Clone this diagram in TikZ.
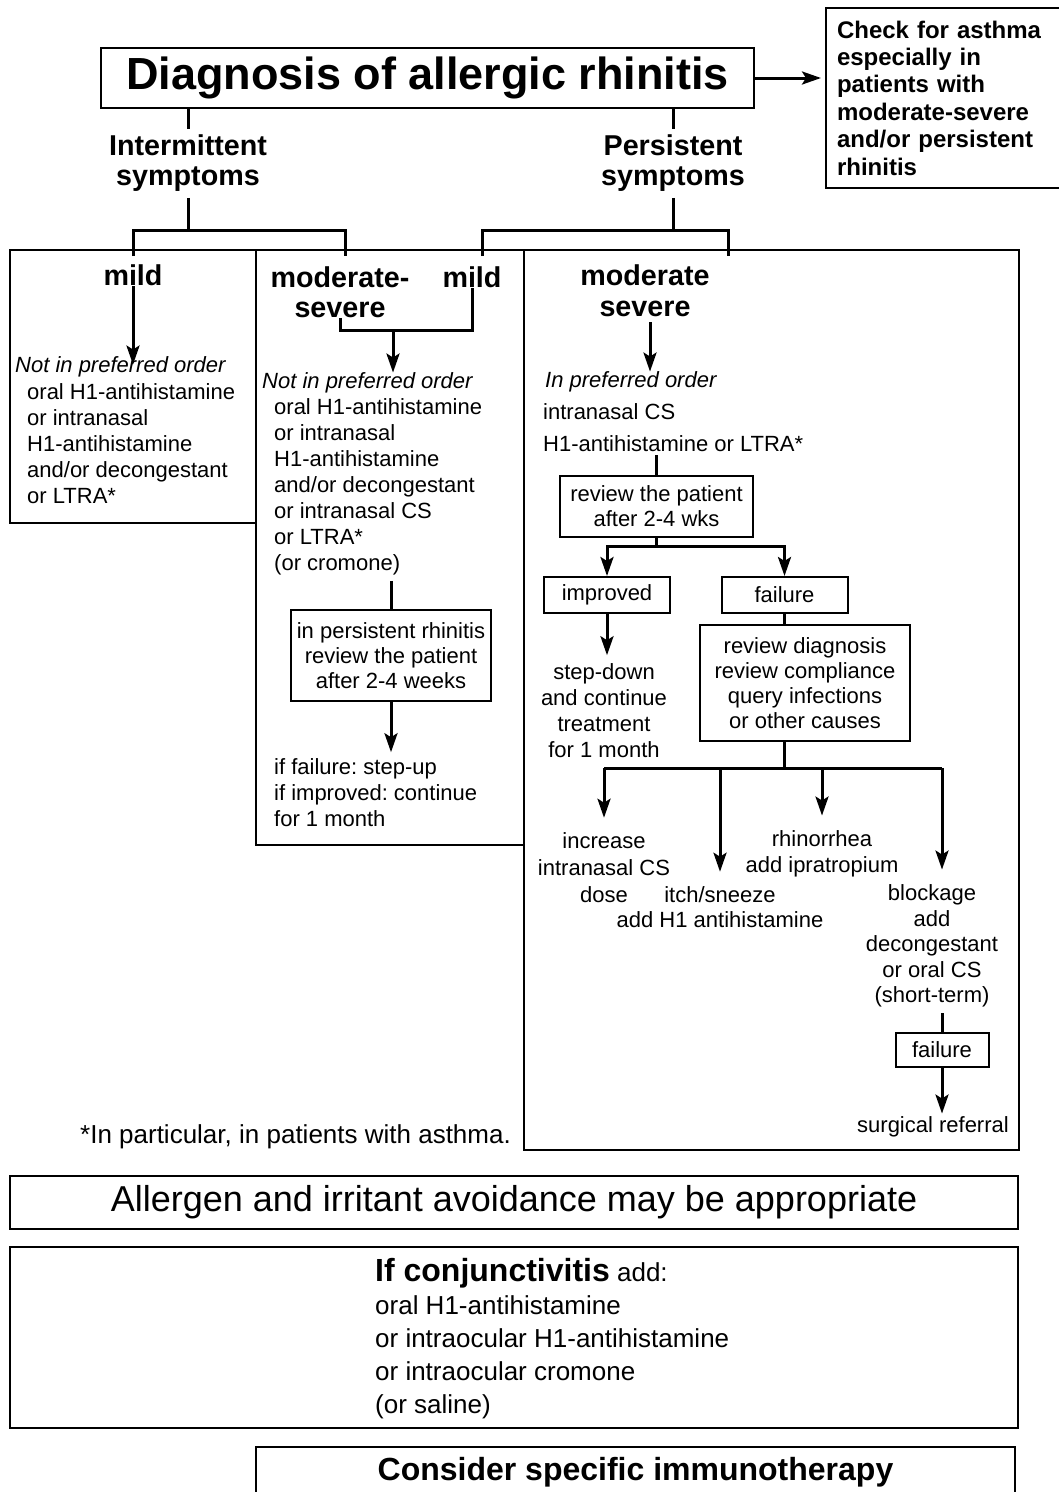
\documentclass[tikz,border=0pt]{standalone}
\usepackage{fontspec}
\setmainfont{Liberation Sans}
\usetikzlibrary{arrows.meta,positioning,calc}
\frenchspacing

\begin{document}
\begin{tikzpicture}[x=1pt,y=-1pt,
	box/.style={draw,line width=2pt,inner sep=0pt},
	ln/.style={line width=3pt},
	arr/.style={line width=3pt,-{Stealth[length=19pt,width=13pt,inset=4pt]}},
	body/.style={inner sep=0pt,font=\fontsize{22}{26}\selectfont},
	small/.style={font=\fontsize{22}{25}\selectfont},
	head/.style={inner sep=0pt,align=center,font=\bfseries\fontsize{28.7}{30.5}\selectfont}]
		\useasboundingbox (0,0) rectangle (1059,1492);
		% title and asthma note
		\node[box,minimum width=653pt,minimum height=60pt,font=\bfseries\fontsize{45}{50}\selectfont] (title) at (427.5,78) {Diagnosis of allergic rhinitis};
		\node[box,anchor=north west,minimum width=240pt,minimum height=180pt,inner xsep=11pt,text width=218pt,align=left,font=\bfseries\fontsize{24}{27.4}\selectfont] (check) at (825,7) {Check for asthma\\especially in\\patients with\\moderate-severe\\and/or persistent\\rhinitis};
		\draw[arr,shorten >=4pt] (title.east) -- (check.west |- title.east);
		% symptoms
		\node[head] (interm) at (188,163) {Intermittent\\symptoms};
		\node[head] (persist) at (673,163) {Persistent\\symptoms};
		\draw[ln,shorten >=5pt] (title.south -| interm) -- (interm.north);
		\draw[ln,shorten >=5pt] (title.south -| persist) -- (persist.north);
		\coordinate (ij) at (188,230);
		\coordinate (iL) at (133,256);
		\coordinate (iR) at (345,256);
		\coordinate (pj) at (673,230);
		\coordinate (pL) at (482,256);
		\coordinate (pR) at (728,256);
		\draw[ln,shorten <=6pt] (interm.south) -- (ij);
		\draw[ln,shorten <=6pt] (persist.south) -- (pj);
		\draw[ln] (iL) |- (ij) -| (iR);
		\draw[ln] (pL) |- (pj) -| (pR);
		% the three columns
		\draw[line width=2pt] (10,250) rectangle (256,523);
		\draw[line width=2pt] (256,250) rectangle (524,845);
		\draw[line width=2pt] (524,250) rectangle (1019,1150);
		% intermittent, mild
		\node[head] (mildA) at (133,275) {mild};
		\node[body,anchor=west] (hdA) at (15,367) {\itshape Not in preferred order};
		\node[body,anchor=west,align=left] (lstA) at (27,443.5) {oral H1-antihistamine\\or intranasal\\H1-antihistamine\\and/or decongestant\\or LTRA*};
		\draw[arr,shorten >=-8pt] (mildA.south) -- (mildA.south |- hdA.north);
		% moderate-severe intermittent, mild persistent
		\node[head] (modsevB) at (340,292) {moderate-\\severe};
		\node[head] (mildB) at (472,277) {mild};
		\coordinate (mj) at (393,330);
		\draw[ln] (modsevB.south) |- (mj) -| (mildB.south);
		\node[body,anchor=west] (hdB) at (262,383) {\itshape Not in preferred order};
		\draw[arr] (mj) -- (mj |- hdB.north);
		\node[body,anchor=west,align=left] (lstB) at (274,486.5) {oral H1-antihistamine\\or intranasal\\H1-antihistamine\\and/or decongestant\\or intranasal CS\\or LTRA*\\(or cromone)};
		\node[box,small,minimum width=200pt,minimum height=91pt,align=center] (revB) at (391,655.5) {in persistent rhinitis\\review the patient\\after 2-4 weeks};
		\draw[ln,shorten <=6pt] (lstB.south -| revB) -- (revB.north);
		\node[body,anchor=west,align=left] (outB) at (274,792.5) {if failure: step-up\\if improved: continue\\for 1 month};
		\draw[arr,shorten >=6pt] (revB.south) -- (revB.south |- outB.north);
		% moderate-severe persistent
		\node[head] (modsevC) at (645,290.5) {moderate\\severe};
		\node[body,anchor=west] (hdC) at (545,382) {\itshape In preferred order};
		\draw[arr,shorten <=6pt] ([xshift=5pt]modsevC.south) -- ([xshift=5pt]modsevC.south |- hdC.north);
		\node[body,anchor=west,align=left,font=\fontsize{22}{32}\selectfont] (trtC) at (543,428) {intranasal CS\\H1-antihistamine or LTRA*};
		\node[box,small,minimum width=193pt,minimum height=61pt,align=center] (revC) at (656.5,506.5) {review the patient\\after 2-4 wks};
		\draw[ln,shorten <=3pt] (trtC.south -| revC) -- (revC.north);
		\node[box,small,minimum width=126pt,minimum height=36pt] (impr) at (607,595) {improved};
		\node[box,small,minimum width=126pt,minimum height=36pt] (failC) at (784.5,595) {failure};
		\coordinate (rj) at (656.5,546);
		\draw[ln] (revC.south) -- (rj);
		\draw[arr] (rj) -| (impr.north);
		\draw[arr] (rj) -| (failC.north);
		\node[body,align=center] (stepC) at (604,710.5) {step-down\\and continue\\treatment\\for 1 month};
		\draw[arr,shorten >=8pt] (impr.south) -- (impr.south |- stepC.north);
		\node[box,small,minimum width=210pt,minimum height=116pt,align=center] (revD) at (805,683) {review diagnosis\\review compliance\\query infections\\or other causes};
		\draw[ln] (failC.south) -- (failC.south |- revD.north);
		% step-up branches
		\node[body,align=center,font=\fontsize{22}{27}\selectfont] (incr) at (604,868) {increase\\intranasal CS\\dose};
		\node[body,small,align=center] (itch) at (720,907.5) {itch/sneeze\\add H1 antihistamine};
		\node[body,align=center] (rhin) at (822,854) {rhinorrhea\\add ipratropium};
		\node[body,align=center,font=\fontsize{22}{25.5}\selectfont] (block) at (932,946) {blockage\\add\\decongestant\\or oral CS\\(short-term)};
		\coordinate (dj) at (784.5,768);
		\coordinate (dR) at (942,768);
		\draw[ln] (revD.south -| dj) -- (dj);
		\draw[ln] (dj -| incr) -- (dR);
		\foreach \n in {incr,itch,rhin}
			\draw[arr,shorten >=15pt] (dj -| \n) -- (\n.north);
		\draw[arr,shorten >=15pt] (dR) -- (dR |- block.north);
		\node[box,small,minimum width=93pt,minimum height=34pt] (failE) at (942,1050) {failure};
		\draw[ln,shorten <=6pt] (block.south -| failE) -- (failE.north);
		\node[body] (surg) at (933,1127) {surgical referral};
		\draw[arr,shorten >=3pt] (failE.south) -- (failE.south |- surg.north);
		\node[body,anchor=west,font=\fontsize{26}{28}\selectfont] (note) at (80,1137) {*In particular, in patients with asthma.};
		% general advice
		\node[box,minimum width=1008pt,minimum height=53pt,font=\fontsize{36}{40}\selectfont] (avoid) at (514,1202.5) {Allergen and irritant avoidance may be appropriate};
		\node[box,minimum width=1008pt,minimum height=181pt] (conj) at (514,1337.5) {};
		\node[inner sep=0pt,anchor=west,align=left,font=\fontsize{26}{33}\selectfont] (conjtxt) at (375,1338.5) {{\bfseries\fontsize{32}{33}\selectfont If conjunctivitis} add:\\oral H1-antihistamine\\or intraocular H1-antihistamine\\or intraocular cromone\\(or saline)};
		\node[box,minimum width=759pt,minimum height=50pt,font=\bfseries\fontsize{32}{36}\selectfont] (immu) at (635.5,1472) {Consider specific immunotherapy};
	\end{tikzpicture}
\end{document}
